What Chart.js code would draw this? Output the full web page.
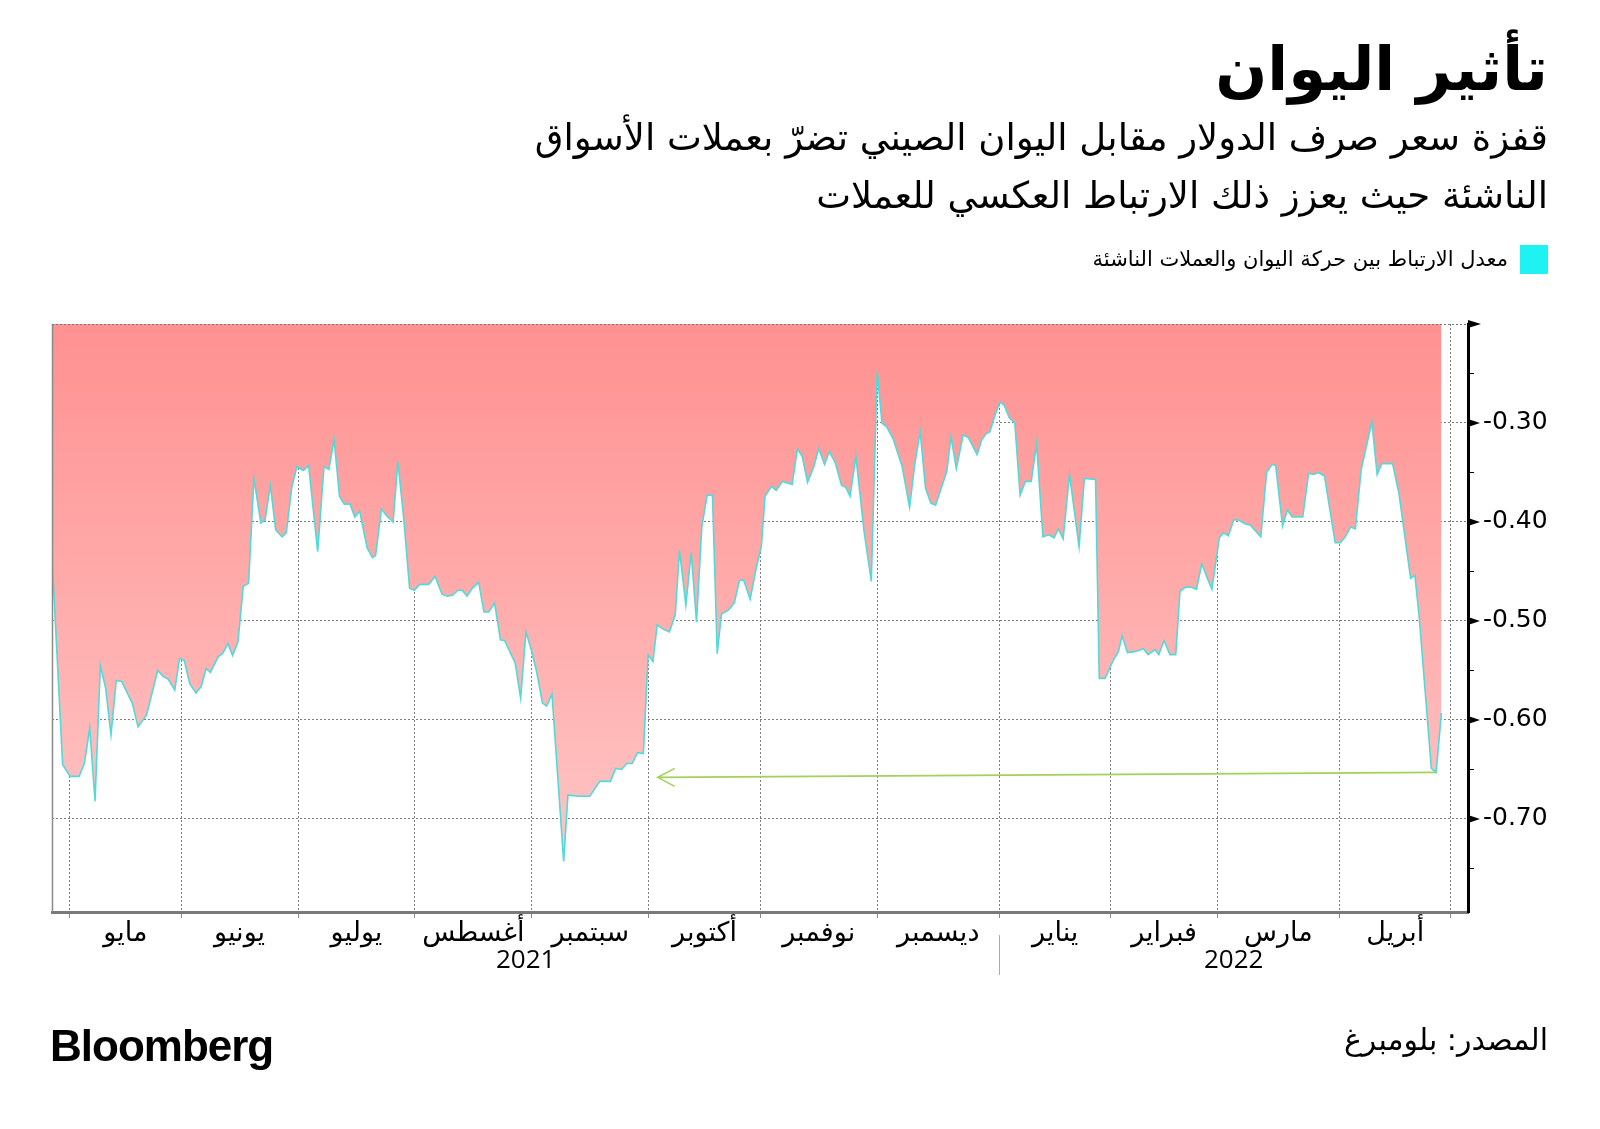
<!DOCTYPE html>
<html lang="ar">
<head>
<meta charset="UTF-8">
<title>تأثير اليوان</title>
<script src="https://cdn.jsdelivr.net/npm/chart.js@4/dist/chart.umd.min.js"></script>
<style>
    body {
        margin: 0;
        width: 1600px;
        height: 1129px;
        background: #fff;
        position: relative;
        overflow: hidden;
        font-family: "DejaVu Sans", sans-serif;
    }

    .txt {
        position: absolute;
        right: 52px;
        direction: rtl;
        text-align: right;
        white-space: nowrap;
        color: #000;
        z-index: 2;
    }

    .title {
        top: 24px;
        font-size: 61px;
        font-weight: bold;
        line-height: 90px;
    }

    .sub {
        top: 109px;
        font-size: 37px;
        line-height: 58px;
    }

    .legend {
        top: 245px;
        font-size: 21px;
        line-height: 29px;
    }

    .legend .box {
        display: inline-block;
        width: 28px;
        height: 29px;
        background: #1ff2f2;
        vertical-align: top;
        margin-left: 12px;
    }

    .source {
        top: 1020px;
        font-size: 30px;
        line-height: 40px;
    }

    .brand {
        position: absolute;
        left: 50px;
        top: 1021px;
        font-family: "Liberation Sans", Arial, sans-serif;
        font-weight: bold;
        font-size: 44px;
        letter-spacing: -1px;
        line-height: 50px;
    }

    #chart {
        position: absolute;
        left: 0;
        top: 0;
    }
</style>
</head>
<body>
<div class="txt title">تأثير اليوان</div>
<div class="txt sub">قفزة سعر صرف الدولار مقابل اليوان الصيني تضرّ بعملات الأسواق<br>الناشئة حيث يعزز ذلك الارتباط العكسي للعملات</div>
<div class="txt legend"><span class="box"></span>معدل الارتباط بين حركة اليوان والعملات الناشئة</div>
<canvas id="chart" width="1600" height="1129"></canvas>
<div class="brand">Bloomberg</div>
<div class="txt source">المصدر: بلومبرغ</div>

<script>
// x is counted in weekdays, 0 = start of May 2021
const monthStarts = [0, 21, 43, 65, 87, 109, 130, 152, 175, 196, 216, 239, 260];
const monthLabels = ['مايو', 'يونيو', 'يوليو', 'أغسطس', 'سبتمبر', 'أكتوبر', 'نوفمبر', 'ديسمبر', 'يناير', 'فبراير', 'مارس', 'أبريل'];
const yearLabels = ['2021', '2022'];
const yearBreak = 175;
const yTicks = [-0.70, -0.60, -0.50, -0.40, -0.30];
const yMinorTicks = [-0.75, -0.65, -0.55, -0.45, -0.35, -0.25];

const dayIndex = [
    -3.3, -1.3, 0.1, 1.8, 2.8, 3.8, 4.8, 5.8, 6.8, 7.8, 8.8, 9.8, 11.8, 12.9, 14.5, 16.6, 17.6, 18.6, 19.8, 20.7,
    21.6, 22.6, 23.8, 24.8, 25.7, 26.5, 28.0, 28.8, 29.8, 30.7, 31.7, 32.7, 33.7, 34.7, 36.0, 36.8, 37.8, 38.8, 40.0, 40.8,
    41.8, 42.8, 44.0, 45.0, 46.7, 47.9, 48.8, 49.8, 50.8, 51.7, 52.8, 53.7, 54.6, 56.0, 57.0, 57.6, 58.7, 59.7, 60.9, 61.8,
    62.9, 64.0, 64.9, 65.9, 67.6, 68.8, 70.1, 71.1, 72.1, 73.1, 73.9, 74.8, 75.8, 77.0, 78.0, 78.9, 80.0, 81.1, 81.9, 83.9,
    84.9, 85.9, 86.9, 87.9, 89.0, 89.8, 90.8, 93.0, 93.8, 95.9, 97.9, 99.8, 101.8, 102.8, 103.9, 104.9, 105.9, 106.9, 108.0, 108.9,
    109.8, 110.6, 111.6, 112.9, 114.0, 114.8, 116.0, 117.0, 118.0, 119.0, 120.0, 121.0, 121.9, 122.7, 124.0, 125.1, 126.1, 126.9, 128.1, 129.3,
    130.2, 130.9, 132.1, 133.0, 134.2, 136.0, 137.0, 137.9, 138.9, 140.1, 141.0, 142.1, 143.0, 144.1, 145.3, 146.1, 146.9, 148.0, 149.5, 150.9,
    152.0, 152.9, 153.8, 155.0, 156.7, 158.1, 159.1, 160.1, 161.1, 162.1, 163.0, 165.1, 165.9, 166.9, 168.2, 169.2, 170.8, 171.7, 172.5, 173.2,
    174.2, 175.1, 175.9, 176.9, 177.9, 178.9, 179.9, 181.0, 182.0, 183.2, 184.3, 185.3, 186.1, 187.0, 188.2, 190.0, 191.0, 193.1, 193.8, 194.9,
    196.4, 197.4, 198.1, 199.1, 200.5, 202.1, 203.0, 204.3, 205.0, 206.0, 207.1, 208.2, 209.0, 210.0, 211.2, 212.1, 213.1, 214.0, 215.0, 216.4,
    217.2, 218.1, 219.1, 220.0, 221.3, 222.2, 224.2, 225.3, 226.3, 227.0, 228.3, 229.2, 230.1, 232.1, 233.2, 234.1, 235.1, 236.2, 238.2, 239.2,
    240.1, 241.1, 242.0, 243.1, 245.1, 246.1, 247.0, 249.0, 250.2, 252.4, 253.2, 254.0, 256.3, 257.2, 258.2
];
const correlation = [
    -0.435, -0.645, -0.657, -0.657, -0.644, -0.608, -0.682, -0.545, -0.568, -0.615, -0.560, -0.561, -0.583, -0.607, -0.595, -0.550, -0.556, -0.559, -0.570, -0.538,
    -0.540, -0.563, -0.573, -0.566, -0.548, -0.552, -0.536, -0.533, -0.523, -0.535, -0.521, -0.465, -0.462, -0.356, -0.401, -0.398, -0.363, -0.408, -0.415, -0.411,
    -0.366, -0.344, -0.348, -0.343, -0.430, -0.344, -0.347, -0.317, -0.374, -0.382, -0.382, -0.395, -0.389, -0.426, -0.436, -0.434, -0.387, -0.394, -0.400, -0.339,
    -0.397, -0.467, -0.469, -0.463, -0.463, -0.455, -0.473, -0.475, -0.474, -0.469, -0.469, -0.475, -0.467, -0.461, -0.491, -0.491, -0.482, -0.519, -0.520, -0.543,
    -0.578, -0.511, -0.529, -0.551, -0.583, -0.586, -0.574, -0.743, -0.676, -0.677, -0.677, -0.662, -0.662, -0.649, -0.650, -0.644, -0.644, -0.633, -0.634, -0.534,
    -0.541, -0.504, -0.508, -0.511, -0.494, -0.429, -0.484, -0.431, -0.501, -0.405, -0.373, -0.373, -0.533, -0.493, -0.489, -0.482, -0.459, -0.459, -0.478, -0.445,
    -0.425, -0.374, -0.364, -0.368, -0.359, -0.362, -0.326, -0.334, -0.360, -0.344, -0.326, -0.342, -0.329, -0.340, -0.363, -0.365, -0.374, -0.334, -0.408, -0.460,
    -0.248, -0.300, -0.304, -0.316, -0.344, -0.385, -0.341, -0.309, -0.366, -0.381, -0.383, -0.349, -0.314, -0.346, -0.312, -0.315, -0.332, -0.317, -0.311, -0.309,
    -0.292, -0.279, -0.282, -0.295, -0.300, -0.373, -0.359, -0.359, -0.321, -0.415, -0.413, -0.416, -0.407, -0.417, -0.352, -0.425, -0.356, -0.357, -0.558, -0.558,
    -0.540, -0.531, -0.515, -0.532, -0.531, -0.528, -0.534, -0.529, -0.534, -0.520, -0.534, -0.534, -0.470, -0.466, -0.466, -0.468, -0.442, -0.455, -0.468, -0.416,
    -0.411, -0.414, -0.398, -0.398, -0.402, -0.403, -0.415, -0.350, -0.342, -0.343, -0.404, -0.388, -0.395, -0.395, -0.351, -0.352, -0.350, -0.354, -0.421, -0.421,
    -0.415, -0.405, -0.407, -0.347, -0.299, -0.352, -0.341, -0.341, -0.371, -0.457, -0.454, -0.495, -0.649, -0.653, -0.593
];

// green arrow: from the April 2022 low back to the September 2021 level
const arrowFrom = { x: 257.2, y: -0.653 };
const arrowTo = { x: 110.7, y: -0.658 };

const X_MIN = -3.3, X_MAX = 263.2;
const Y_MIN = -0.794, Y_MAX = -0.20;

const points = dayIndex.map((d, i) => ({ x: d, y: correlation[i] }));

// frame, axis arrows, month/year labels and the arrow annotation
const decorations = {
    id: 'decorations',
    afterDraw(chart) {
        const ctx = chart.ctx;
        const a = chart.chartArea;
        const xs = chart.scales.x;
        const ys = chart.scales.y;
        ctx.save();

        // left edge and dotted top edge
        ctx.strokeStyle = '#8a8a8a';
        ctx.lineWidth = 1.5;
        ctx.beginPath();
        ctx.moveTo(a.left + 0.5, a.top);
        ctx.lineTo(a.left + 0.5, a.bottom);
        ctx.stroke();
        ctx.setLineDash([2, 2]);
        ctx.lineWidth = 1;
        ctx.strokeStyle = '#777';
        ctx.beginPath();
        ctx.moveTo(a.left, a.top + 0.5);
        ctx.lineTo(a.right, a.top + 0.5);
        ctx.stroke();
        ctx.setLineDash([]);

        // y axis arrow heads and minor ticks
        ctx.fillStyle = '#000';
        const tri = (y, len, h) => {
            ctx.beginPath();
            ctx.moveTo(a.right, y - h);
            ctx.lineTo(a.right + len, y);
            ctx.lineTo(a.right, y + h);
            ctx.closePath();
            ctx.fill();
        };
        tri(a.top, 13, 4);
        yTicks.forEach(v => tri(ys.getPixelForValue(v), 12, 4));
        ctx.strokeStyle = '#000';
        ctx.lineWidth = 1;
        yMinorTicks.forEach(v => {
            const y = Math.round(ys.getPixelForValue(v)) + 0.5;
            ctx.beginPath();
            ctx.moveTo(a.right, y);
            ctx.lineTo(a.right + 6, y);
            ctx.stroke();
        });

        // month labels
        ctx.font = '27px "Open Sans", "DejaVu Sans", sans-serif';
        ctx.textAlign = 'center';
        ctx.textBaseline = 'middle';
        ctx.fillStyle = '#000';
        monthLabels.forEach((m, i) => {
            const x = (xs.getPixelForValue(monthStarts[i]) + xs.getPixelForValue(monthStarts[i + 1])) / 2;
            ctx.fillText(m, x, a.bottom + 21);
        });

        // year labels, centred on their part of the axis
        const xb = xs.getPixelForValue(yearBreak);
        ctx.font = '26px "Open Sans", "DejaVu Sans", sans-serif';
        ctx.fillText(yearLabels[0], (a.left + xb) / 2, a.bottom + 49);
        ctx.fillText(yearLabels[1], (xb + a.right) / 2, a.bottom + 49);
        ctx.strokeStyle = '#aaa';
        ctx.beginPath();
        ctx.moveTo(Math.round(xb) + 0.5, a.bottom + 23);
        ctx.lineTo(Math.round(xb) + 0.5, a.bottom + 63);
        ctx.stroke();

        // arrow
        const x1 = xs.getPixelForValue(arrowFrom.x), y1 = ys.getPixelForValue(arrowFrom.y);
        const x2 = xs.getPixelForValue(arrowTo.x), y2 = ys.getPixelForValue(arrowTo.y);
        ctx.strokeStyle = '#a3d15a';
        ctx.lineWidth = 1.6;
        ctx.beginPath();
        ctx.moveTo(x1, y1);
        ctx.lineTo(x2, y2);
        ctx.moveTo(x2 + 17, y2 - 9);
        ctx.lineTo(x2, y2);
        ctx.lineTo(x2 + 17, y2 + 9);
        ctx.stroke();

        ctx.restore();
    }
};

new Chart(document.getElementById('chart'), {
    type: 'line',
    data: {
        datasets: [{
            data: points,
            borderColor: '#52dada',
            borderWidth: 1.6,
            pointRadius: 0,
            tension: 0,
            fill: 'end',
            backgroundColor: (c) => {
                const area = c.chart.chartArea;
                if (!area) return '#ffa8a8';
                const g = c.chart.ctx.createLinearGradient(0, area.top, 0, area.bottom);
                g.addColorStop(0, '#ff9191');
                g.addColorStop(1, '#ffcaca');
                return g;
            }
        }]
    },
    options: {
        responsive: false,
        animation: false,
        devicePixelRatio: 1,
        layout: { padding: { left: 52, top: 324, right: 0, bottom: 0 } },
        plugins: { legend: { display: false }, tooltip: { enabled: false } },
        scales: {
            x: {
                type: 'linear',
                min: X_MIN,
                max: X_MAX,
                z: 1,
                afterBuildTicks: s => { s.ticks = monthStarts.map(v => ({ value: v })); },
                afterFit: s => { s.height = 1129 - 912; },
                ticks: { display: false },
                grid: {
                    color: '#7d7d7d',
                    lineWidth: 1,
                    drawTicks: true,
                    tickLength: 6,
                    tickColor: '#888'
                },
                border: { display: true, color: '#7a7a7a', width: 3, dash: [2, 2] }
            },
            y: {
                position: 'right',
                min: Y_MIN,
                max: Y_MAX,
                z: 1,
                afterBuildTicks: s => { s.ticks = yTicks.map(v => ({ value: v })); },
                afterFit: s => { s.width = 1600 - 1468; },
                ticks: {
                    callback: v => v.toFixed(2),
                    color: '#000',
                    padding: 15,
                    font: { size: 25, family: '"DejaVu Sans", sans-serif' }
                },
                grid: { color: '#7d7d7d', lineWidth: 1, drawTicks: false },
                border: { display: true, color: '#000', width: 3, dash: [2, 2] }
            }
        }
    },
    plugins: [decorations]
});
</script>
</body>
</html>
